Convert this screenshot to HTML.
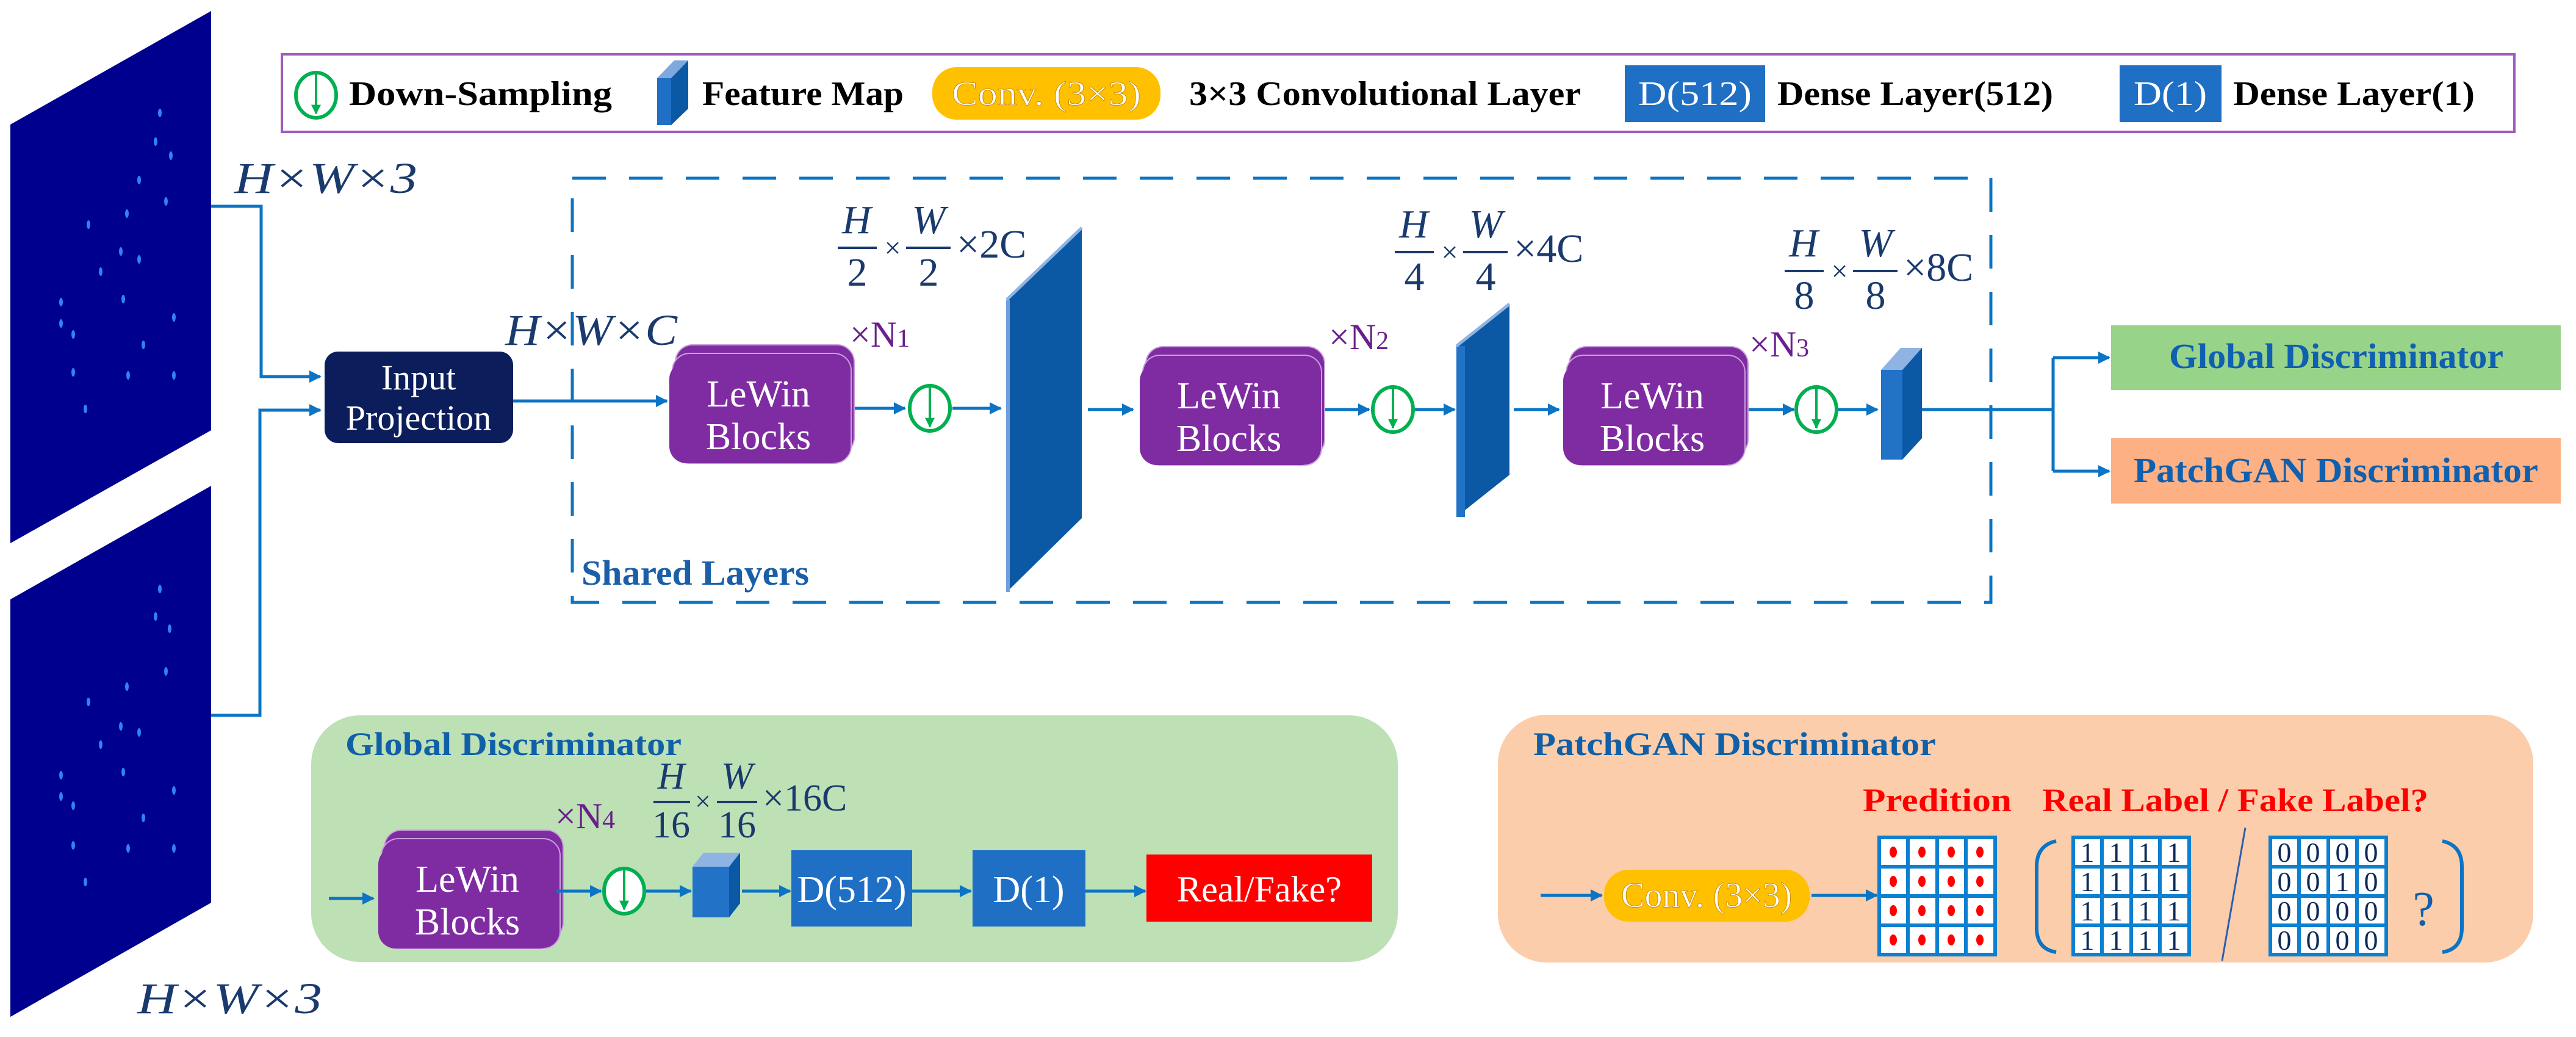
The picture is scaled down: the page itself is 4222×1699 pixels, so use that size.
<!DOCTYPE html>
<html><head><meta charset="utf-8"><style>html,body{margin:0;padding:0;background:#fff}svg{display:block}svg text,svg tspan{font-family:"Liberation Serif","DejaVu Serif","Times New Roman",serif}</style></head><body>
<svg width="4222" height="1699" viewBox="0 0 4222 1699" xmlns="http://www.w3.org/2000/svg" font-family="Liberation Serif">
<defs>
<marker id="ah" viewBox="0 0 10 10" refX="9" refY="5" markerWidth="4" markerHeight="4" orient="auto" markerUnits="strokeWidth"><path d="M0,0 L10,5 L0,10 z" fill="#0b74c4"/></marker>
<marker id="gh" viewBox="0 0 10 10" refX="9" refY="5" markerWidth="4" markerHeight="4" orient="auto" markerUnits="strokeWidth"><path d="M0,0 L10,5 L0,10 z" fill="#00b050"/></marker>
<g id="ds"><ellipse cx="0" cy="0" rx="33" ry="37" fill="#fff" stroke="#00b050" stroke-width="6"/><line x1="0" y1="-36" x2="0" y2="30" stroke="#00b050" stroke-width="4" marker-end="url(#gh)"/></g>
</defs>
<g stroke="#0b74c4" stroke-width="5" fill="none">
<path d="M346,338 H428 V617 H525" marker-end="url(#ah)"/>
<path d="M346,1172 H426 V672 H525" marker-end="url(#ah)"/>
<path d="M841,657 H1093" marker-end="url(#ah)"/>
<path d="M1394,669 H1483" marker-end="url(#ah)"/>
<path d="M1561,669 H1640" marker-end="url(#ah)"/>
<path d="M1783,671 H1857" marker-end="url(#ah)"/>
<path d="M2168,671 H2244" marker-end="url(#ah)"/>
<path d="M2318,671 H2384" marker-end="url(#ah)"/>
<path d="M2481,671 H2555" marker-end="url(#ah)"/>
<path d="M2862,671 H2940" marker-end="url(#ah)"/>
<path d="M3013,671 H3077" marker-end="url(#ah)"/>
<path d="M3150,671 H3365 M3365,586 V772"/>
<path d="M3365,586 H3457" marker-end="url(#ah)"/>
<path d="M3365,772 H3457" marker-end="url(#ah)"/>
</g>
<polygon points="17,204 346,18 346,705 17,890" fill="#00008f"/>
<polygon points="17,982 346,796 346,1479 17,1666" fill="#00008f"/>
<g fill="#3a9aff" opacity="0.85">
<ellipse cx="262" cy="185" rx="3" ry="7"/><ellipse cx="255" cy="232" rx="3" ry="7"/><ellipse cx="280" cy="255" rx="3" ry="7"/><ellipse cx="228" cy="295" rx="3" ry="7"/><ellipse cx="272" cy="330" rx="3" ry="7"/><ellipse cx="208" cy="350" rx="3" ry="7"/><ellipse cx="145" cy="368" rx="3" ry="7"/><ellipse cx="198" cy="412" rx="3" ry="7"/><ellipse cx="228" cy="425" rx="3" ry="7"/><ellipse cx="165" cy="445" rx="3" ry="7"/><ellipse cx="100" cy="495" rx="3" ry="7"/><ellipse cx="202" cy="490" rx="3" ry="7"/><ellipse cx="285" cy="520" rx="3" ry="7"/><ellipse cx="100" cy="530" rx="3" ry="7"/><ellipse cx="120" cy="548" rx="3" ry="7"/><ellipse cx="235" cy="565" rx="3" ry="7"/><ellipse cx="120" cy="610" rx="3" ry="7"/><ellipse cx="210" cy="615" rx="3" ry="7"/><ellipse cx="285" cy="615" rx="3" ry="7"/><ellipse cx="140" cy="670" rx="3" ry="7"/>
<ellipse cx="262" cy="965" rx="3" ry="7"/><ellipse cx="255" cy="1010" rx="3" ry="7"/><ellipse cx="278" cy="1030" rx="3" ry="7"/><ellipse cx="272" cy="1100" rx="3" ry="7"/><ellipse cx="208" cy="1125" rx="3" ry="7"/><ellipse cx="145" cy="1150" rx="3" ry="7"/><ellipse cx="198" cy="1190" rx="3" ry="7"/><ellipse cx="228" cy="1200" rx="3" ry="7"/><ellipse cx="165" cy="1220" rx="3" ry="7"/><ellipse cx="100" cy="1270" rx="3" ry="7"/><ellipse cx="202" cy="1265" rx="3" ry="7"/><ellipse cx="285" cy="1295" rx="3" ry="7"/><ellipse cx="100" cy="1305" rx="3" ry="7"/><ellipse cx="120" cy="1320" rx="3" ry="7"/><ellipse cx="235" cy="1340" rx="3" ry="7"/><ellipse cx="120" cy="1385" rx="3" ry="7"/><ellipse cx="210" cy="1390" rx="3" ry="7"/><ellipse cx="285" cy="1390" rx="3" ry="7"/><ellipse cx="140" cy="1445" rx="3" ry="7"/>
</g>
<rect x="462" y="89" width="3659" height="127" fill="#fff" stroke="#9e5cc0" stroke-width="4"/>
<use href="#ds" x="518" y="156"/>
<g font-weight="bold" font-size="56" fill="#000">
<text x="572" y="172" textLength="431" lengthAdjust="spacingAndGlyphs">Down-Sampling</text>
<text x="1151" y="172" textLength="330" lengthAdjust="spacingAndGlyphs">Feature Map</text>
<text x="1949" y="172" textLength="642" lengthAdjust="spacingAndGlyphs">3×3 Convolutional Layer</text>
<text x="2913" y="172" textLength="452" lengthAdjust="spacingAndGlyphs">Dense Layer(512)</text>
<text x="3660" y="172" textLength="396" lengthAdjust="spacingAndGlyphs">Dense Layer(1)</text>
</g>
<polygon points="1077,128 1100,128 1100,205 1077,205" fill="#1f6fc5"/>
<polygon points="1077,128 1100,128 1128,99 1105,99" fill="#7fa8dc"/>
<polygon points="1100,128 1128,99 1128,178 1100,205" fill="#0b58a5"/>
<rect x="1528" y="110" width="374" height="86" rx="40" fill="#ffc000"/>
<text x="1560" y="172" font-size="56" fill="#fff" stroke="#c08000" stroke-width="0.8" textLength="310" lengthAdjust="spacingAndGlyphs">Conv. (3×3)</text>
<rect x="2663" y="107" width="230" height="93" fill="#1f6fc5"/>
<text x="2685" y="172" font-size="56" fill="#fff" textLength="186" lengthAdjust="spacingAndGlyphs">D(512)</text>
<rect x="3474" y="107" width="167" height="93" fill="#1f6fc5"/>
<text x="3497" y="172" font-size="56" fill="#fff" textLength="120" lengthAdjust="spacingAndGlyphs">D(1)</text>
<rect x="938" y="292" width="2325" height="695" fill="none" stroke="#0b74c4" stroke-width="5" stroke-dasharray="55,38"/>
<text x="953" y="958" font-size="58" font-weight="bold" fill="#1a5fa8" textLength="373" lengthAdjust="spacingAndGlyphs">Shared Layers</text>
<g fill="#1a3a6e" font-size="72">
<text x="384" y="316" font-style="italic" textLength="300" lengthAdjust="spacingAndGlyphs">H×W×3</text>
<text x="828" y="565" font-style="italic" textLength="282" lengthAdjust="spacingAndGlyphs">H×W×C</text>
<text x="225" y="1660" font-style="italic" textLength="303" lengthAdjust="spacingAndGlyphs">H×W×3</text>
</g>
<rect x="532" y="576" width="309" height="150" rx="22" fill="#0b1d5a"/>
<text x="686" y="638" font-size="58" fill="#fff" text-anchor="middle">Input</text>
<text x="686" y="704" font-size="58" fill="#fff" text-anchor="middle">Projection</text>
<g id="lw1">
<rect x="1107" y="565" width="293" height="180" rx="28" fill="#7f2ca2" stroke="#c9a0dc" stroke-width="2"/>
<rect x="1102" y="579" width="293" height="180" rx="28" fill="#7f2ca2" stroke="#c9a0dc" stroke-width="2"/>
<rect x="1097" y="593" width="292" height="166" rx="28" fill="#7f2ca2"/>
<text x="1243" y="666" font-size="62" fill="#fff" text-anchor="middle">LeWin</text>
<text x="1243" y="736" font-size="62" fill="#fff" text-anchor="middle">Blocks</text>
</g>
<use href="#lw1" x="771" y="3"/>
<use href="#lw1" x="1465" y="3"/>
<g fill="#6a1f8c" font-size="60">
<text x="1393" y="568">×N<tspan font-size="42">1</tspan></text>
<text x="2178" y="572">×N<tspan font-size="42">2</tspan></text>
<text x="2867" y="584">×N<tspan font-size="42">3</tspan></text>
</g>
<use href="#ds" x="1524" y="669"/>
<use href="#ds" x="2283" y="671"/>
<use href="#ds" x="2977" y="671"/>
<polygon points="1650,491 1773,373 1773,849 1650,970" fill="#0b58a5"/>
<line x1="1652" y1="491" x2="1652" y2="970" stroke="#6fa0dc" stroke-width="6"/>
<line x1="1650" y1="491" x2="1773" y2="373" stroke="#8fb4e4" stroke-width="5"/>
<polygon points="2387,567 2474,498 2474,778 2387,847" fill="#0b58a5"/>
<rect x="2387" y="567" width="14" height="280" fill="#2272c8"/>
<line x1="2387" y1="567" x2="2474" y2="498" stroke="#8fb4e4" stroke-width="5"/>
<polygon points="3083,606 3118,606 3118,753 3083,753" fill="#2272c8"/>
<polygon points="3083,606 3118,606 3150,570 3115,570" fill="#8fb4e4"/>
<polygon points="3118,606 3150,570 3150,718 3118,753" fill="#0b58a5"/>
<g fill="#1a3a6e" font-size="66">
<text x="1404" y="382" font-style="italic" text-anchor="middle">H</text>
<rect x="1373" y="404" width="64" height="4"/>
<text x="1463" y="422" font-size="48" text-anchor="middle">×</text>
<text x="1522" y="382" font-style="italic" text-anchor="middle">W</text>
<rect x="1485" y="404" width="73" height="4"/>
<text x="1568" y="422">×2C</text>
<text x="1405" y="468" text-anchor="middle">2</text>
<text x="1522" y="468" text-anchor="middle">2</text>
</g>
<g fill="#1a3a6e" font-size="66">
<text x="2317" y="389" font-style="italic" text-anchor="middle">H</text>
<rect x="2286" y="411" width="64" height="4"/>
<text x="2376" y="429" font-size="48" text-anchor="middle">×</text>
<text x="2435" y="389" font-style="italic" text-anchor="middle">W</text>
<rect x="2398" y="411" width="73" height="4"/>
<text x="2481" y="429">×4C</text>
<text x="2318" y="475" text-anchor="middle">4</text>
<text x="2435" y="475" text-anchor="middle">4</text>
</g>
<g fill="#1a3a6e" font-size="66">
<text x="2956" y="420" font-style="italic" text-anchor="middle">H</text>
<rect x="2925" y="442" width="64" height="4"/>
<text x="3015" y="460" font-size="48" text-anchor="middle">×</text>
<text x="3074" y="420" font-style="italic" text-anchor="middle">W</text>
<rect x="3037" y="442" width="73" height="4"/>
<text x="3120" y="460">×8C</text>
<text x="2957" y="506" text-anchor="middle">8</text>
<text x="3074" y="506" text-anchor="middle">8</text>
</g>
<rect x="3460" y="533" width="737" height="106" fill="#98d38a"/>
<text x="3555" y="603" font-size="58" font-weight="bold" fill="#1060b0" textLength="548" lengthAdjust="spacingAndGlyphs">Global Discriminator</text>
<rect x="3460" y="718" width="737" height="107" fill="#fdb083"/>
<text x="3497" y="790" font-size="58" font-weight="bold" fill="#1060b0" textLength="663" lengthAdjust="spacingAndGlyphs">PatchGAN Discriminator</text>
<rect x="510" y="1172" width="1781" height="404" rx="80" fill="#bde0b5"/>
<text x="566" y="1237" font-size="54" font-weight="bold" fill="#1060a8" textLength="551" lengthAdjust="spacingAndGlyphs">Global Discriminator</text>
<use href="#lw1" x="-477" y="795"/>
<text x="910" y="1357" fill="#6a1f8c" font-size="60">×N<tspan font-size="42">4</tspan></text>
<use href="#ds" x="1023" y="1460"/>
<polygon points="1135,1420 1195,1420 1195,1503 1135,1503" fill="#2272c8"/>
<polygon points="1135,1420 1195,1420 1213,1397 1153,1397" fill="#8fb4e4"/>
<polygon points="1195,1420 1213,1397 1213,1480 1195,1503" fill="#0b58a5"/>
<g fill="#1a3a6e" font-size="62">
<text x="1100" y="1292" font-style="italic" text-anchor="middle">H</text>
<rect x="1071" y="1312" width="60" height="4"/>
<text x="1152" y="1328" font-size="46" text-anchor="middle">×</text>
<text x="1208" y="1292" font-style="italic" text-anchor="middle">W</text>
<rect x="1175" y="1312" width="66" height="4"/>
<text x="1250" y="1328">×16C</text>
<text x="1100" y="1372" text-anchor="middle">16</text>
<text x="1208" y="1372" text-anchor="middle">16</text>
</g>
<g stroke="#0b74c4" stroke-width="5" fill="none">
<path d="M539,1472 H612" marker-end="url(#ah)"/>
<path d="M912,1460 H985" marker-end="url(#ah)"/>
<path d="M1059,1460 H1132" marker-end="url(#ah)"/>
<path d="M1216,1460 H1295" marker-end="url(#ah)"/>
<path d="M1495,1460 H1591" marker-end="url(#ah)"/>
<path d="M1779,1460 H1877" marker-end="url(#ah)"/>
</g>
<rect x="1297" y="1393" width="198" height="125" fill="#1f6fc5"/>
<text x="1396" y="1478" font-size="62" fill="#fff" text-anchor="middle">D(512)</text>
<rect x="1594" y="1393" width="185" height="125" fill="#1f6fc5"/>
<text x="1686" y="1478" font-size="62" fill="#fff" text-anchor="middle">D(1)</text>
<rect x="1879" y="1400" width="370" height="110" fill="#ff0000"/>
<text x="2064" y="1477" font-size="60" fill="#fff" text-anchor="middle">Real/Fake?</text>
<rect x="2455" y="1171" width="1697" height="406" rx="80" fill="#fccdaa"/>
<text x="2513" y="1237" font-size="54" font-weight="bold" fill="#1060a8" textLength="660" lengthAdjust="spacingAndGlyphs">PatchGAN Discriminator</text>
<text x="3053" y="1329" font-size="54" font-weight="bold" fill="#ff0000" textLength="244" lengthAdjust="spacingAndGlyphs">Predition</text>
<text x="3347" y="1329" font-size="54" font-weight="bold" fill="#ff0000" textLength="633" lengthAdjust="spacingAndGlyphs">Real Label / Fake Label?</text>
<rect x="2629" y="1425" width="337" height="85" rx="40" fill="#ffc000"/>
<text x="2797" y="1486" font-size="58" fill="#fff" stroke="#c08000" stroke-width="0.8" text-anchor="middle">Conv. (3×3)</text>
<g stroke="#0b74c4" stroke-width="5" fill="none">
<path d="M2525,1467 H2625" marker-end="url(#ah)"/>
<path d="M2969,1467 H3076" marker-end="url(#ah)"/>
<path d="M3370,1378 Q3338,1385 3338,1420 V1520 Q3338,1555 3370,1560" stroke-width="6"/>
<path d="M4003,1378 Q4035,1385 4035,1420 V1520 Q4035,1555 4003,1560" stroke-width="6"/>
<line x1="3680" y1="1356" x2="3642" y2="1574" stroke="#2a5fb0" stroke-width="3"/>
</g>
<g id="grid" stroke="#0b80d0" stroke-width="6" fill="#fff">
<rect x="3080" y="1372" width="190" height="192"/>
<path d="M3127,1372 V1564 M3175,1372 V1564 M3222,1372 V1564 M3080,1420 H3270 M3080,1468 H3270 M3080,1516 H3270" fill="none"/>
</g>
<g fill="#ff0000">
<ellipse cx="3103" cy="1396" rx="6" ry="9"/><ellipse cx="3150" cy="1396" rx="6" ry="9"/><ellipse cx="3198" cy="1396" rx="6" ry="9"/><ellipse cx="3245" cy="1396" rx="6" ry="9"/>
<ellipse cx="3103" cy="1444" rx="6" ry="9"/><ellipse cx="3150" cy="1444" rx="6" ry="9"/><ellipse cx="3198" cy="1444" rx="6" ry="9"/><ellipse cx="3245" cy="1444" rx="6" ry="9"/>
<ellipse cx="3103" cy="1492" rx="6" ry="9"/><ellipse cx="3150" cy="1492" rx="6" ry="9"/><ellipse cx="3198" cy="1492" rx="6" ry="9"/><ellipse cx="3245" cy="1492" rx="6" ry="9"/>
<ellipse cx="3103" cy="1540" rx="6" ry="9"/><ellipse cx="3150" cy="1540" rx="6" ry="9"/><ellipse cx="3198" cy="1540" rx="6" ry="9"/><ellipse cx="3245" cy="1540" rx="6" ry="9"/>
</g>
<use href="#grid" x="318" y="0"/>
<use href="#grid" x="641" y="0"/>
<g font-size="46" fill="#0b2a5a" text-anchor="middle">
<text x="3421" y="1412">1</text><text x="3468" y="1412">1</text><text x="3516" y="1412">1</text><text x="3563" y="1412">1</text>
<text x="3421" y="1460">1</text><text x="3468" y="1460">1</text><text x="3516" y="1460">1</text><text x="3563" y="1460">1</text>
<text x="3421" y="1508">1</text><text x="3468" y="1508">1</text><text x="3516" y="1508">1</text><text x="3563" y="1508">1</text>
<text x="3421" y="1556">1</text><text x="3468" y="1556">1</text><text x="3516" y="1556">1</text><text x="3563" y="1556">1</text>
<text x="3744" y="1412">0</text><text x="3791" y="1412">0</text><text x="3839" y="1412">0</text><text x="3886" y="1412">0</text>
<text x="3744" y="1460">0</text><text x="3791" y="1460">0</text><text x="3839" y="1460">1</text><text x="3886" y="1460">0</text>
<text x="3744" y="1508">0</text><text x="3791" y="1508">0</text><text x="3839" y="1508">0</text><text x="3886" y="1508">0</text>
<text x="3744" y="1556">0</text><text x="3791" y="1556">0</text><text x="3839" y="1556">0</text><text x="3886" y="1556">0</text>
</g>
<text x="3972" y="1516" font-size="80" fill="#1060b0" text-anchor="middle">?</text>
</svg>
</body></html>
